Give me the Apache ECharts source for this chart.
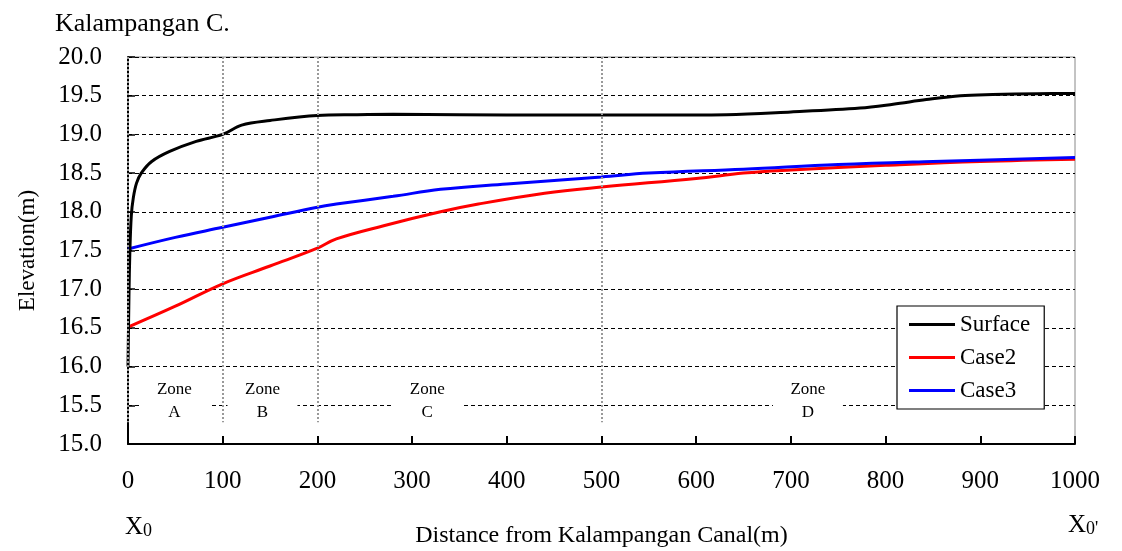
<!DOCTYPE html>
<html>
<head>
<meta charset="utf-8">
<script src="https://cdn.jsdelivr.net/npm/echarts@6/dist/echarts.min.js"></script>
<style>
  html, body { margin: 0; padding: 0; background: #fff; }
  #chart { width: 1122px; height: 551px; }
</style>
</head>
<body>
<div id="chart"></div>
<script>
// surface elevation along the transect
const surfX = [0, 1, 2, 3.5, 5.6, 9, 14, 25, 44, 72, 100, 120, 150, 200, 240, 280, 350, 450, 550, 632, 700, 773, 808, 843, 879, 913, 960, 1000];
const surfY = [16.0, 16.9, 17.5, 17.95, 18.18, 18.37, 18.5, 18.65, 18.78, 18.91, 19.0, 19.12, 19.18, 19.245, 19.255, 19.26, 19.255, 19.25, 19.25, 19.255, 19.29, 19.34, 19.39, 19.45, 19.5, 19.515, 19.525, 19.53];
// water level, case 2
const case2X = [0, 50, 100, 150, 200, 220, 270, 330, 370, 440, 500, 600, 650, 700, 800, 900, 1000];
const case2Y = [16.51, 16.78, 17.07, 17.3, 17.53, 17.65, 17.82, 18.0, 18.1, 18.24, 18.32, 18.43, 18.5, 18.54, 18.6, 18.65, 18.68];
// water level, case 3
const case3X = [0, 50, 100, 150, 200, 220, 280, 330, 400, 500, 550, 650, 750, 850, 1000];
const case3Y = [17.52, 17.67, 17.8, 17.93, 18.06, 18.1, 18.2, 18.29, 18.36, 18.45, 18.5, 18.55, 18.61, 18.65, 18.7];
// zone labels and boundaries
const zoneNames = ["A", "B", "C", "D"];
const zoneX = [49, 142, 316, 718];
const zoneBounds = [0, 100, 200, 500];

const font = "'Liberation Serif', 'DejaVu Serif', serif";
const zip = (xs, ys) => xs.map((x, i) => [x, ys[i]]);
const xLab = () => ({
    rich: {
        a: { fontFamily: font, fontSize: 25, fontWeight: "normal", color: "#000" },
        b: { fontFamily: font, fontSize: 18, fontWeight: "normal", color: "#000", verticalAlign: "bottom", padding: [6, 0, 0, 0] }
    }
});

const chart = echarts.init(document.getElementById("chart"));
chart.setOption({
    animation: false,
    backgroundColor: "#fff",
    textStyle: { fontFamily: font, color: "#000" },
    title: [
        { text: "Kalampangan C.", left: 50, top: 6, textStyle: { fontFamily: font, fontSize: 26, fontWeight: "normal", color: "#000" } },
        { text: "{a|X}{b|0}", left: 120, top: 510, textStyle: xLab() },
        { text: "{a|X}{b|0'}", left: 1063, top: 508, textStyle: xLab() }
    ],
    legend: {
        orient: "vertical",
        left: 897,
        top: 306,
        padding: [7, 14, 7, 12],
        itemGap: 10,
        itemWidth: 46,
        itemHeight: 3,
        icon: "rect",
        borderColor: "#000",
        borderWidth: 1.2,
        backgroundColor: "#fff",
        textStyle: { fontFamily: font, fontSize: 23, color: "#000", padding: [0, 8, 0, 0] },
        data: ["Surface", "Case2", "Case3"]
    },
    grid: { left: 128, right: 47, top: 57, bottom: 107, outerBoundsMode: "none", containLabel: false, show: true, borderColor: "#888", borderWidth: 1 },
    xAxis: {
        type: "value",
        min: 0,
        max: 1000,
        interval: 100,
        name: "Distance from Kalampangan Canal(m)",
        nameLocation: "middle",
        nameGap: 80,
        nameTextStyle: { fontFamily: font, fontSize: 24, color: "#000" },
        axisLine: { show: true, lineStyle: { color: "#000", width: 2 } },
        axisTick: { show: true, inside: true, length: 8, lineStyle: { color: "#000", width: 2 } },
        axisLabel: { fontFamily: font, fontSize: 25, color: "#000", margin: 25, formatter: v => String(v) },
        splitLine: { show: false }
    },
    yAxis: {
        type: "value",
        min: 15,
        max: 20,
        interval: 0.5,
        name: "Elevation(m)",
        nameLocation: "middle",
        nameRotate: 90,
        nameGap: 89,
        nameTextStyle: { fontFamily: font, fontSize: 23, color: "#000" },
        axisLine: { show: true, lineStyle: { color: "#000", width: 2 } },
        axisTick: { show: true, inside: true, length: 7, lineStyle: { color: "#000", width: 1.5 } },
        axisLabel: { fontFamily: font, fontSize: 25, color: "#000", margin: 26, formatter: v => v.toFixed(1) },
        splitLine: { show: true, lineStyle: { color: "#000", type: [4, 3], width: 1.2 } }
    },
    series: [
        {
            name: "Surface",
            type: "line",
            data: zip(surfX, surfY),
            showSymbol: false,
            smooth: 0.35,
            lineStyle: { color: "#000", width: 3 },
            itemStyle: { color: "#000" },
            z: 4
        },
        {
            name: "Case2",
            type: "line",
            data: zip(case2X, case2Y),
            showSymbol: false,
            smooth: 0.4,
            lineStyle: { color: "#ff0000", width: 3 },
            itemStyle: { color: "#ff0000" },
            z: 3
        },
        {
            name: "Case3",
            type: "line",
            data: zip(case3X, case3Y),
            showSymbol: false,
            smooth: 0.4,
            lineStyle: { color: "#0000ff", width: 3 },
            itemStyle: { color: "#0000ff" },
            z: 3
        },
        {
            // zone boundaries and zone labels
            type: "scatter",
            data: zoneX.map((x, i) => ({ value: [x, 15.55], name: zoneNames[i] })),
            symbolSize: 0,
            silent: true,
            z: 2,
            itemStyle: { opacity: 1 },
            label: {
                show: true,
                position: "inside",
                formatter: p => "Zone\n" + p.name,
                fontFamily: font,
                fontSize: 17,
                lineHeight: 23,
                color: "#000",
                opacity: 1,
                backgroundColor: "#fff",
                width: 70,
                align: "center"
            },
            markLine: {
                silent: true,
                symbol: "none",
                label: { show: false },
                lineStyle: { color: "#999", type: [2, 2], width: 2 },
                data: zoneBounds.map(x => [{ coord: [x, 20] }, { coord: [x, 15.28] }])
            }
        }
    ]
});
</script>
</body>
</html>
